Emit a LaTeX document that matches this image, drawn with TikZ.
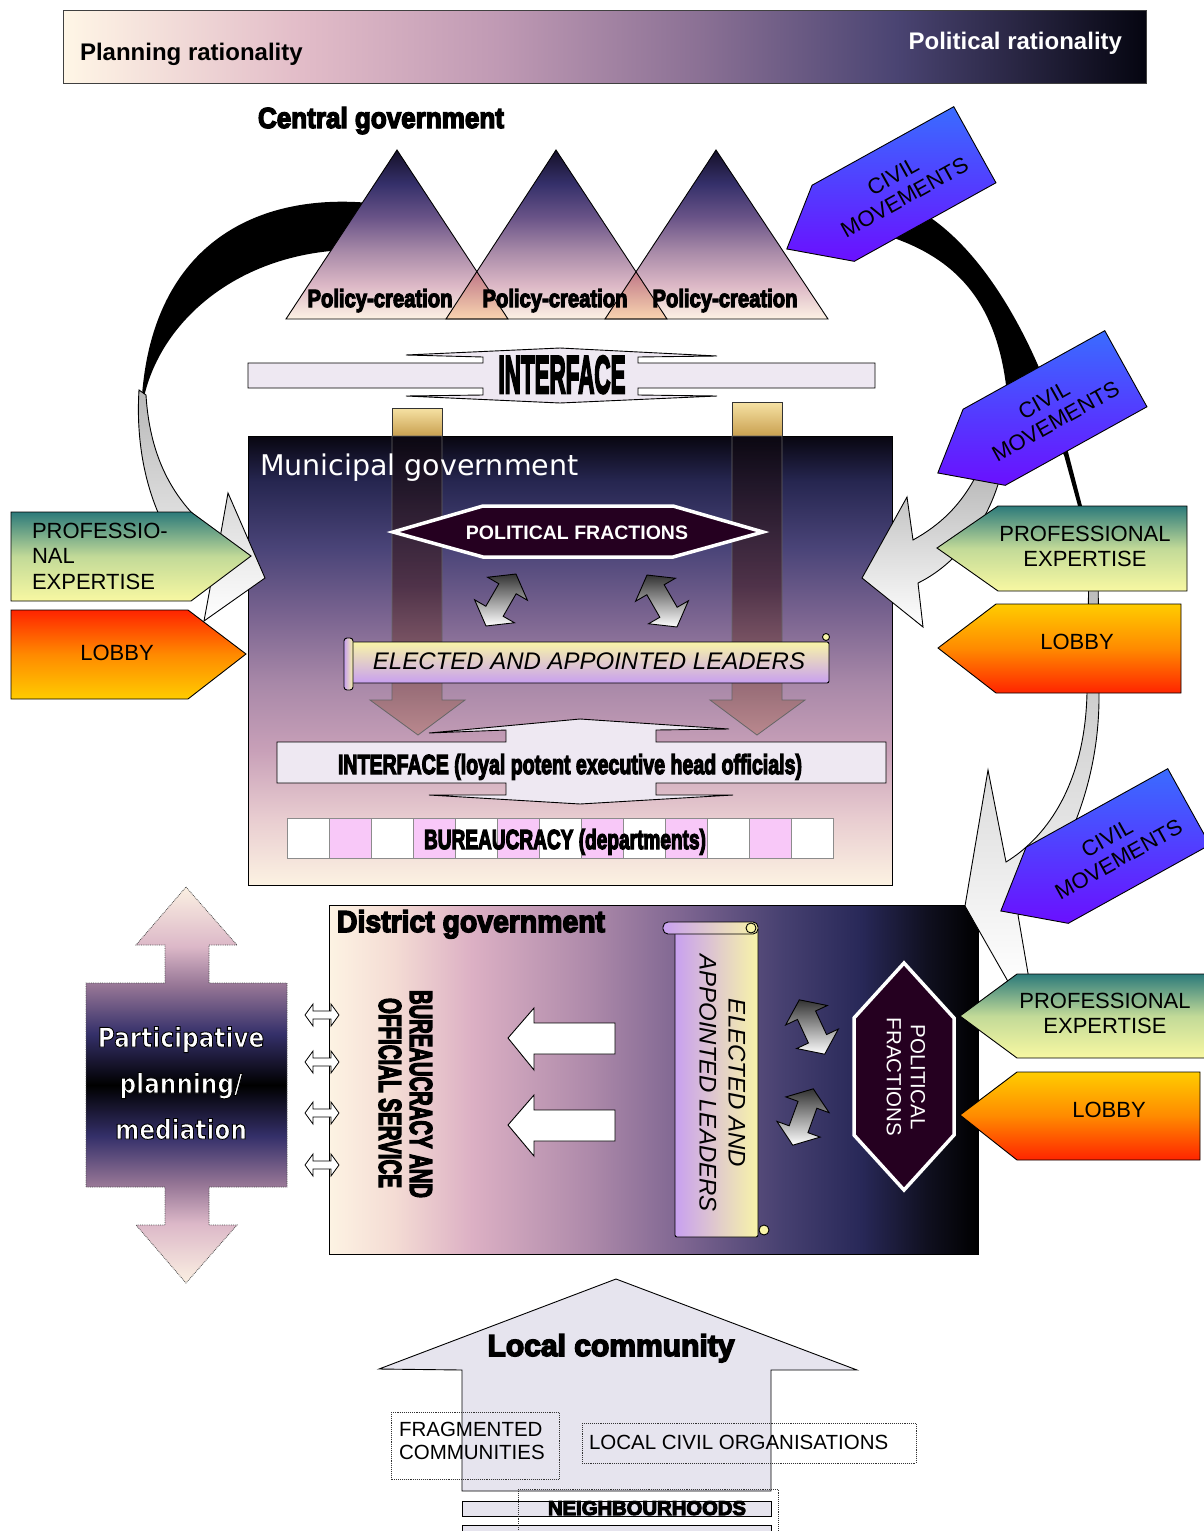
\documentclass[tikz,border=0pt]{standalone}
\usepackage{fontspec}
\usepackage{graphicx}
\setmainfont{Liberation Sans}
\newfontfamily\hvyfont[FakeBold=5]{Liberation Sans Bold}
\newfontfamily\dvs{DejaVu Sans}
\newfontfamily\dvsb[FakeStretch=0.86]{DejaVu Sans Bold}
\usetikzlibrary{calc}

\definecolor{cmA}{HTML}{3A6CFF}
\definecolor{cmB}{HTML}{6A10FF}
\definecolor{peA}{HTML}{2C7A7A}
\definecolor{peB}{HTML}{C2DA98}
\definecolor{peC}{HTML}{F8F8A2}
\definecolor{lbA}{HTML}{FF2400}
\definecolor{lbB}{HTML}{FF8A00}
\definecolor{lbC}{HTML}{FFCC00}
\definecolor{pfcol}{HTML}{250020}
\definecolor{elA}{HTML}{F8F4A8}
\definecolor{elB}{HTML}{C8A0F0}
\definecolor{ifc}{HTML}{EEE8F2}
\definecolor{bpink}{HTML}{F8C8F8}
\definecolor{goldA}{HTML}{F6E2A4}
\definecolor{goldB}{HTML}{C9A050}
\definecolor{lcfill}{HTML}{E6E4EE}
\definecolor{ovA}{HTML}{C07888}
\definecolor{ovB}{HTML}{F8D4B0}
\definecolor{barA}{HTML}{0C0812}
\definecolor{barB}{HTML}{4A2A3A}
\definecolor{barC}{HTML}{B88484}

% top bar colours
\definecolor{tbA}{HTML}{FFF6E6}
\definecolor{tbB}{HTML}{E2BCC8}
\definecolor{tbC}{HTML}{C09AB4}
\definecolor{tbD}{HTML}{8A7094}
\definecolor{tbE}{HTML}{4A4472}
\definecolor{tbF}{HTML}{050510}
\pgfdeclarehorizontalshading{topbar}{100bp}{color(0bp)=(tbA); color(25bp)=(tbA); color(36bp)=(tbB); color(45bp)=(tbC); color(54.5bp)=(tbD); color(63.5bp)=(tbE); color(75bp)=(tbF); color(100bp)=(tbF)}

% triangles
\definecolor{trA}{HTML}{FDF2E4}
\definecolor{trB}{HTML}{DCB8C6}
\definecolor{trC}{HTML}{A88AA8}
\definecolor{trD}{HTML}{6A5488}
\definecolor{trE}{HTML}{35306A}
\definecolor{trF}{HTML}{151028}
\pgfdeclareverticalshading{tri}{100bp}{color(0bp)=(trA); color(25bp)=(trA); color(35bp)=(trB); color(45bp)=(trC); color(55bp)=(trD); color(65bp)=(trE); color(75bp)=(trF); color(100bp)=(trF)}

% municipal
\definecolor{muA}{HTML}{080610}
\definecolor{muB}{HTML}{262650}
\definecolor{muC}{HTML}{4A4478}
\definecolor{muD}{HTML}{7A6490}
\definecolor{muE}{HTML}{A888A8}
\definecolor{muF}{HTML}{C8A0B8}
\definecolor{muG}{HTML}{E8CCD0}
\definecolor{muH}{HTML}{FCF2E2}
\pgfdeclareverticalshading{muni}{100bp}{color(0bp)=(muH); color(25bp)=(muH); color(32.5bp)=(muG); color(40bp)=(muF); color(47.5bp)=(muE); color(55bp)=(muD); color(62.5bp)=(muC); color(70bp)=(muB); color(75bp)=(muA); color(100bp)=(muA)}

% district
\definecolor{diA}{HTML}{FDF3E3}
\definecolor{diB}{HTML}{F4DCD4}
\definecolor{diC}{HTML}{DCB0C4}
\definecolor{diD}{HTML}{AE8AAA}
\definecolor{diE}{HTML}{7C6490}
\definecolor{diF}{HTML}{464070}
\definecolor{diG}{HTML}{282858}
\definecolor{diH}{HTML}{101020}
\definecolor{diI}{HTML}{000000}
\pgfdeclarehorizontalshading{dist}{100bp}{color(0bp)=(diA); color(25bp)=(diA); color(30bp)=(diB); color(36bp)=(diC); color(45bp)=(diD); color(52.5bp)=(diE); color(60bp)=(diF); color(66bp)=(diG); color(71bp)=(diH); color(75bp)=(diI); color(100bp)=(diI)}

% participative
\definecolor{paA}{HTML}{FBF0E2}
\definecolor{paB}{HTML}{DCB8C8}
\definecolor{paC}{HTML}{957595}
\definecolor{paD}{HTML}{35306A}
\definecolor{paE}{HTML}{000000}
\pgfdeclareverticalshading{part}{100bp}{color(0bp)=(paA); color(25bp)=(paA); color(32.5bp)=(paB); color(37.5bp)=(paC); color(43.5bp)=(paD); color(50bp)=(paE); color(56.5bp)=(paD); color(62.5bp)=(paC); color(67.5bp)=(paB); color(75bp)=(paA); color(100bp)=(paA)}

\newcommand\fitto[3]{\resizebox{#1pt}{#2pt}{#3}}
\newcommand\strokedtext[1]{\special{pdf:literal direct 0 0 0 RG 2 Tr 0.9 w}#1\special{pdf:literal direct 0 Tr}}

\tikzset{
  outl/.style={draw=black, line width=0.9pt},
  pebox/.style={outl, top color=peA, bottom color=peC, middle color=peB},
  lobbydown/.style={outl, top color=lbA, bottom color=lbC, middle color=lbB},
  lobbyup/.style={outl, top color=lbC, bottom color=lbA, middle color=lbB},
  boxtext/.style={font=\fontsize{22}{25}\selectfont, align=center},
  hexfill/.style={draw=white, line width=3.5pt, fill=pfcol},
  ribbon/.style={outl, top color=black!28, bottom color=white},
  bigarrowtext/.style={font=\dvsb\fontsize{27}{30}\selectfont},
  dotbox/.style={draw=black!80, densely dotted, line width=0.9pt},
  lctext/.style={font=\fontsize{20.5}{23}\selectfont}
}

\newcommand\civmove[3]{%
  \begin{scope}[shift={(#2,#3)}, rotate=29]
    \path[outl, top color=cmA, bottom color=cmB] (-81pt,43.5pt) -- (81pt,43.5pt) -- (81pt,-43.5pt) -- (-81pt,-43.5pt) -- (-134pt,0pt) -- cycle;
    \node[transform shape, align=center, font=\fontsize{22}{24}\selectfont] (#1) at (-6pt,0pt) {CIVIL\\MOVEMENTS};
  \end{scope}}

\newcommand\dblarr[3]{%
  \begin{scope}[shift={(#1,#2)}, rotate=#3]
    \path[outl, top color=black!80, bottom color=white] (-30pt,0pt) -- (-13pt,23pt) -- (-13pt,10pt) -- (13pt,10pt) -- (13pt,23pt) -- (30pt,0pt) -- (13pt,-23pt) -- (13pt,-10pt) -- (-13pt,-10pt) -- (-13pt,-23pt) -- cycle;
  \end{scope}}

\begin{document}
\begin{tikzpicture}[x=1pt, y=-1pt, every node/.style={inner sep=0pt, outer sep=0pt}]
\useasboundingbox (0,0) rectangle (1204,1531);
\fill[white] (0,0) rectangle (1204,1531);

% ---------------- top rationality bar
\shadedraw[shading=topbar, draw=black!75, line width=1pt] (63,10) rectangle (1146,83);
\node[anchor=base west, font=\bfseries\fontsize{24}{28}\selectfont] (plan) at (80,60) {Planning rationality};
\node[anchor=base east, text=white, font=\bfseries\fontsize{24}{28}\selectfont] (polit) at (1122,49) {Political rationality};

% ---------------- central government
\node[anchor=base] (central) at (381,128) {\fitto{246}{21}{\hvyfont Central government}};

% black ribbons
\fill[black] (370,203) .. controls (250,192) and (145,250) .. (141,415) .. controls (150,330) and (230,255) .. (345,250) -- cycle;
\fill[black] (888,236) .. controls (955,258) and (995,300) .. (1006,385) -- (1064,455) -- (1078,506) -- (1082,506) -- (1068,452) .. controls (1050,380) and (1000,262) .. (925,214) -- cycle;

% triangles
\shade[shading=tri] (397,150) -- (286,319) -- (508,319) -- cycle;
\shade[shading=tri] (556,150) -- (446,319) -- (667,319) -- cycle;
\shade[shading=tri] (716,150) -- (605,319) -- (828,319) -- cycle;
\shade[top color=ovA, bottom color=ovB] (476.5,271) -- (446,319) -- (508,319) -- cycle;
\shade[top color=ovA, bottom color=ovB] (636,271) -- (605,319) -- (667,319) -- cycle;
\draw[line width=0.9pt] (397,150) -- (286,319) -- (508,319) -- cycle;
\draw[line width=0.9pt] (556,150) -- (446,319) -- (667,319) -- cycle;
\draw[line width=0.9pt] (716,150) -- (605,319) -- (828,319) -- cycle;
\node[anchor=base] (pc1) at (380,307) {\fitto{145}{18}{\hvyfont Policy-creation}};
\node[anchor=base] (pc2) at (555,307) {\fitto{145}{18}{\hvyfont Policy-creation}};
\node[anchor=base] (pc3) at (725,307) {\fitto{145}{18}{\hvyfont Policy-creation}};

% civil movements 1
\civmove{cm1}{904}{184}

% top interface
\path[outl, fill=ifc] (248,363) -- (483,363) -- (483,357) -- (406,355) -- (560,348) -- (717,356) -- (638,357) -- (638,363) -- (875,363) -- (875,388) -- (638,388) -- (638,395) -- (717,396) -- (560,403) -- (406,396) -- (483,395) -- (483,388) -- (248,388) -- cycle;
\node[anchor=base] (ifc1) at (562,393) {\fitto{127}{37}{\hvyfont INTERFACE}};

% golden bar tops
\path[draw=black!80, line width=0.8pt, top color=goldA, bottom color=goldB] (392,408) rectangle (442,436);
\path[draw=black!80, line width=0.8pt, top color=goldA, bottom color=goldB] (732,402) rectangle (782,436);

% ---------------- municipal government
\shadedraw[shading=muni, line width=1pt] (248,436) rectangle (892,885);

% translucent down arrows
\path[draw=black!60, line width=0.8pt, fill opacity=0.8, top color=barA, bottom color=barC, middle color=barB] (392,436) -- (442,436) -- (442,700) -- (465,700) -- (418,735) -- (370,700) -- (392,700) -- cycle;
\path[draw=black!60, line width=0.8pt, fill opacity=0.8, top color=barA, bottom color=barC, middle color=barB] (732,436) -- (782,436) -- (782,700) -- (805,700) -- (757,735) -- (710,700) -- (732,700) -- cycle;

\node[anchor=base west, text=white, font=\dvs\fontsize{28.5}{30}\selectfont] (muni) at (260,475) {Municipal government};

% political fractions (municipal)
\path[hexfill] (393,532) -- (483,506) -- (673,506) -- (763,532) -- (673,557) -- (483,557) -- cycle;
\node[text=white, font=\bfseries\fontsize{19.5}{22}\selectfont] (pfm) at (577,533) {POLITICAL FRACTIONS};

% double arrows
\dblarr{501}{600}{60}
\dblarr{662}{601}{120}

% elected banner (municipal)
\path[outl, rounded corners=2pt, top color=elA, bottom color=elB] (350,642) rectangle (829,683);
\path[outl, rounded corners=3pt, left color=elB, right color=elA] (344,638) rectangle (353,690);
\path[outl, fill=elA] (826,637) circle (3.5pt);
\node[font=\itshape\fontsize{24}{26}\selectfont] (elm) at (589,661) {ELECTED AND APPOINTED LEADERS};

% interface 2
\path[outl, fill=ifc] (277,742) -- (506,742) -- (506,730) -- (429,733) -- (580,719) -- (729,729) -- (656,730) -- (656,742) -- (886,742) -- (886,783) -- (656,783) -- (656,795) -- (733,795) -- (580,804) -- (429,795) -- (506,795) -- (506,783) -- (277,783) -- cycle;
\node[anchor=base] (ifc2) at (570,774) {\fitto{464}{20}{\hvyfont INTERFACE (loyal potent executive head officials)}};

% bureaucracy departments
\foreach \i/\c in {0/white,1/bpink,2/white,3/bpink,4/white,5/bpink,6/white,7/bpink,8/white,9/bpink,10/white,11/bpink,12/white}
  \path[draw=black!45, line width=0.6pt, fill=\c] ({287+42*\i},818) rectangle ({329+42*\i},858);
\node[anchor=base] (bur) at (565,849) {\fitto{282}{20}{\hvyfont BUREAUCRACY (departments)}};

% ---------------- left side ribbon, expertise, lobby
\path[ribbon] (139,390) .. controls (134,470) and (160,545) .. (211,583) -- (204,621) -- (265,578) -- (228,493) -- (220,538) .. controls (175,505) and (150,460) .. (146,395) -- cycle;
\path[pebox] (11,512) -- (191,512) -- (251,556) -- (191,601) -- (11,601) -- cycle;
\node[anchor=west, align=left, font=\fontsize{22}{25.5}\selectfont] (peL) at (32,556) {PROFESSIO-\\NAL\\EXPERTISE};
\path[lobbydown] (11,610) -- (188,610) -- (246,654) -- (188,699) -- (11,699) -- cycle;
\node[boxtext] (lbL) at (117,653) {LOBBY};

% ---------------- right side ribbon 1 and civil movements 2
\path[ribbon] (979,470) .. controls (962,505) and (940,525) .. (913,540) -- (907,497) -- (862,578) -- (923,627) -- (918,583) .. controls (955,565) and (988,525) .. (1001,474) -- cycle;
\civmove{cm2}{1055}{408}

% ---------------- district government
\shadedraw[shading=dist, line width=1pt] (329,905) rectangle (978,1254);
\node[anchor=base west] (distlabel) at (337,932) {\fitto{268}{22}{\hvyfont District government}};
\node[rotate=-90] (bao1) at (421,1094) {\fitto{208}{22}{\hvyfont BUREAUCRACY AND}};
\node[rotate=-90] (bao2) at (390,1093) {\fitto{190}{22}{\hvyfont OFFICIAL SERVICE}};

\path[outl, fill=white] (508,1038) -- (534,1008) -- (534,1023) -- (615,1023) -- (615,1054) -- (534,1054) -- (534,1070) -- cycle;
\path[outl, fill=white] (508,1125) -- (534,1095) -- (534,1110) -- (615,1110) -- (615,1141) -- (534,1141) -- (534,1156) -- cycle;

% elected scroll (district)
\path[outl, rounded corners=2pt, left color=elB, right color=elA] (675,928) rectangle (758,1237);
\path[outl, rounded corners=5pt, left color=elB, right color=elA] (663,922) rectangle (758,934);
\path[outl, fill=elA] (751,928) circle (5pt);
\path[outl, fill=elA] (764,1230) circle (5pt);
\node[rotate=-90, font=\itshape\fontsize{24}{26}\selectfont] (eld1) at (737,1083) {ELECTED AND};
\node[rotate=-90, font=\itshape\fontsize{24}{26}\selectfont] (eld2) at (708,1083) {APPOINTED LEADERS};

\dblarr{812}{1027}{115}
\dblarr{803}{1117}{70}

% political fractions (district)
\path[hexfill] (904,963) -- (954,1018) -- (954,1135) -- (904,1190) -- (854,1135) -- (854,1018) -- cycle;
\node[rotate=-90, text=white, font=\fontsize{20.5}{23}\selectfont] (pfd1) at (918,1077) {POLITICAL};
\node[rotate=-90, text=white, font=\fontsize{20.5}{23}\selectfont] (pfd2) at (894,1077) {FRACTIONS};

% ---------------- right ribbon 2 to district
\path[ribbon] (1089,560) -- (1087,693) .. controls (1085,780) and (1050,835) .. (1006,862) -- (988,770) -- (965,906) -- (1010,985) -- (1030,985) -- (1018,915) .. controls (1060,870) and (1100,790) .. (1099,693) -- (1098,560) -- cycle;
\civmove{cm3}{1118}{846}

% right side boxes
\path[pebox] (998,506) -- (1187,506) -- (1187,591) -- (998,591) -- (937,548) -- cycle;
\node[boxtext] (peR1) at (1085,546) {PROFESSIONAL\\EXPERTISE};
\path[lobbyup] (996,604) -- (1181,604) -- (1181,693) -- (996,693) -- (938,648) -- cycle;
\node[boxtext] (lbR1) at (1077,642) {LOBBY};
\path[pebox] (1017,974) -- (1215,974) -- (1215,1058) -- (1017,1058) -- (960,1016) -- cycle;
\node[boxtext] (peR2) at (1105,1013) {PROFESSIONAL\\EXPERTISE};
\path[lobbyup] (1017,1072) -- (1200,1072) -- (1200,1160) -- (1017,1160) -- (960,1115) -- cycle;
\node[boxtext] (lbR2) at (1109,1110) {LOBBY};

% ---------------- participative planning arrow
\shade[shading=part] (186,887) -- (237,945) -- (209,945) -- (209,983) -- (287,983) -- (287,1187) -- (209,1187) -- (209,1225) -- (237,1225) -- (186,1283) -- (136,1225) -- (165,1225) -- (165,1187) -- (86,1187) -- (86,983) -- (165,983) -- (165,945) -- (136,945) -- cycle;
\draw[black!70, densely dotted, line width=0.8pt] (186,887) -- (237,945) -- (209,945) -- (209,983) -- (287,983) -- (287,1187) -- (209,1187) -- (209,1225) -- (237,1225) -- (186,1283) -- (136,1225) -- (165,1225) -- (165,1187) -- (86,1187) -- (86,983) -- (165,983) -- (165,945) -- (136,945) -- cycle;
\node[anchor=base, bigarrowtext, text=white] (pp1) at (181,1047) {\strokedtext{Participative}};
\node[anchor=base, bigarrowtext, text=white] (pp2) at (181,1093) {\strokedtext{planning/}};
\node[anchor=base, bigarrowtext, text=white] (pp3) at (181,1139) {\strokedtext{mediation}};

% small two-way arrows at district edge
\foreach \yy in {1015,1062,1113,1165}
  \path[draw=black, line width=0.8pt, fill=white, shift={(322,\yy)}] (-17pt,0pt) -- (-9pt,11pt) -- (-9pt,4pt) -- (9pt,4pt) -- (9pt,11pt) -- (17pt,0pt) -- (9pt,-11pt) -- (9pt,-4pt) -- (-9pt,-4pt) -- (-9pt,-11pt) -- cycle;

% ---------------- local community
\path[outl, fill=lcfill] (616,1279) -- (857,1370) -- (771,1370) -- (771,1491) -- (462,1491) -- (462,1370) -- (379,1369) -- cycle;
\node[anchor=base] (lc) at (611,1356) {\fitto{247}{22}{\hvyfont Local community}};
\path[outl, fill=lcfill] (462,1501) rectangle (771,1516);
\path[outl, fill=lcfill] (462,1525) rectangle (771,1545);
\draw[dotbox] (518,1489) rectangle (778,1545);
\node[anchor=base] (nb) at (647,1515) {\fitto{198}{14}{\hvyfont NEIGHBOURHOODS}};
\draw[dotbox] (391,1412) rectangle (559,1479);
\node[anchor=base west, lctext] (frag1) at (399,1436) {FRAGMENTED};
\node[anchor=base west, lctext] (frag2) at (399,1459) {COMMUNITIES};
\draw[dotbox] (582,1423) rectangle (916,1463);
\node[anchor=base west, lctext] (lco) at (589,1449) {LOCAL CIVIL ORGANISATIONS};
\end{tikzpicture}
\end{document}
